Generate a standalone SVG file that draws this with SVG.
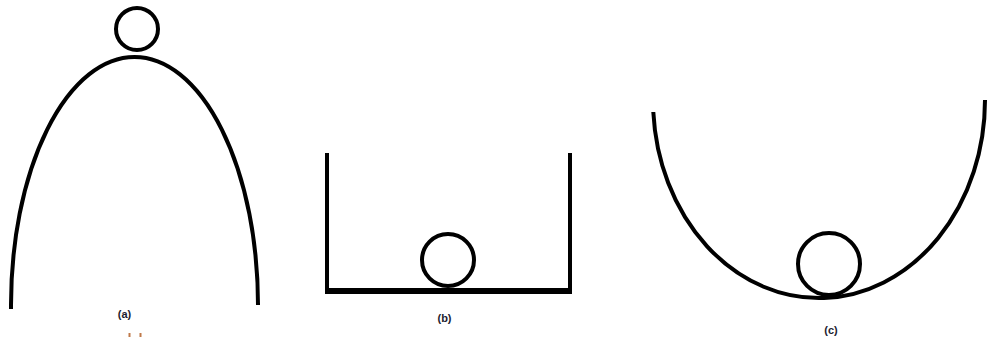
<svg xmlns="http://www.w3.org/2000/svg" width="987" height="344" viewBox="0 0 987 344">
<style>
.ln{fill:none;stroke:#000;stroke-width:4}
.ball{fill:#fff;stroke:#000;stroke-width:4}
.lbl{font-family:"Liberation Sans",Arial,sans-serif;font-weight:bold;font-size:11px;fill:#1c1c30;text-anchor:middle}
</style>
<rect width="987" height="344" fill="#fff"/>
<g id="fig-a">
<path class="ln" d="M 11 309 L 11 305 A 123.5 248 0 0 1 258 305 L 258 303"/>
<circle class="ball" cx="137" cy="29" r="21"/>
<text class="lbl" x="124.5" y="318">(a)</text>
<rect x="128.5" y="333" width="2" height="4" fill="#c07a4a"/>
<rect x="139.5" y="333" width="2" height="4" fill="#c07a4a"/>
</g>
<g id="fig-b">
<path class="ln" d="M 327 153 L 327 291"/>
<path class="ln" d="M 570 153 L 570 291"/>
<path fill="none" stroke="#000" stroke-width="6" d="M 325 291 L 572 291"/>
<circle class="ball" cx="448" cy="260" r="26"/>
<text class="lbl" x="444.5" y="322">(b)</text>
</g>
<g id="fig-c">
<path class="ln" stroke-width="4.5" d="M 653.3 112 A 166 198 0 0 0 985 100"/>
<circle class="ball" cx="829" cy="264" r="31"/>
<text class="lbl" x="831" y="334">(c)</text>
</g>
</svg>
